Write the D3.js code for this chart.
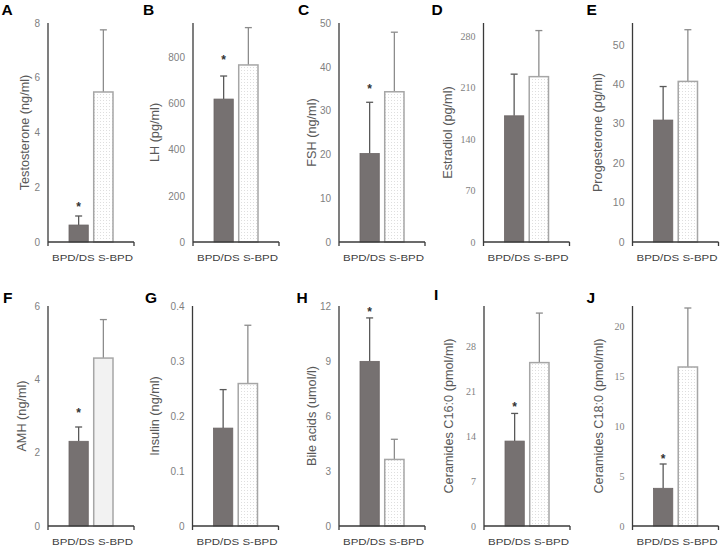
<!DOCTYPE html>
<html>
<head>
<meta charset="utf-8">
<title>Bar panels</title>
<script src="https://cdn.jsdelivr.net/npm/d3@7"></script>
<style>
body { margin: 0; background: #fff; }
svg { font-family: "Liberation Sans", Arial, sans-serif; }
</style>
</head>
<body>
<div id="chart"></div>
<script>

// data
var letters = ["A", "B", "C", "D", "E", "F", "G", "H", "I", "J"];
var yTitles = ["Testosterone (ng/ml)", "LH (pg/ml)", "FSH (ng/ml)", "Estradiol (pg/ml)", "Progesterone (pg/ml)",
               "AMH (ng/ml)", "Insulin (ng/ml)", "Bile acids (umol/l)", "Ceramides C16:0 (pmol/ml)", "Ceramides C18:0 (pmol/ml)"];
var groups = ["BPD/DS", "S-BPD"];
var meanBPDDS = [0.62, 620, 20.2, 171.7, 30.9, 2.31, 0.178, 8.98, 13.2, 3.77];
var sdBPDDS   = [0.33, 100, 11.7, 56.7, 8.5, 0.39, 0.07, 2.37, 4.3, 2.43];
var meanSBPD  = [5.48, 768, 34.3, 225, 40.7, 4.58, 0.259, 3.63, 25.4, 15.9];
var sdSBPD    = [2.27, 162, 13.6, 62.7, 13.1, 1.05, 0.106, 1.1, 7.7, 5.9];
var signif    = [true, true, true, false, false, true, false, true, true, true];
var yMax      = [8, 950, 50, 298, 55.5, 6, 0.4, 12, 34.2, 22];
var yTicks = [
  [0, 2, 4, 6, 8],
  [0, 200, 400, 600, 800],
  [0, 10, 20, 30, 40, 50],
  [0, 70, 140, 210, 280],
  [0, 10, 20, 30, 40, 50],
  [0, 2, 4, 6],
  [0, 0.1, 0.2, 0.3, 0.4],
  [0, 3, 6, 9, 12],
  [0, 7, 14, 21, 28],
  [0, 5, 10, 15, 20]
];

// layout
var width = 721, height = 546;
var axisX = [48, 193, 339, 483.5, 632.5, 48, 192.5, 339, 484, 632.5];
var plotW = 86;
var rowTop = [23, 306], rowBottom = [242, 526];
var titleX = [25, 155, 311.7, 448, 598, 22, 155, 311.7, 448.3, 598.3];
var letterX = [1.5, 143, 298, 431.5, 586.5, 3, 145, 296.5, 434, 586.5];
var letterY = [15, 15, 15, 15, 15, 303, 303, 303, 300, 303];
var starGap = [13, 20, 17, 0, 0, 18, 0, 10, 10, 9];
var solidSBPD = [false, false, false, false, false, true, false, false, false, false];
var serifTicks = [false, false, false, true, false, false, false, false, true, true];

var svg = d3.select("#chart")
  .append("svg")
  .attr("width", width)
  .attr("height", height);

var pat = svg.append("defs").append("pattern")
  .attr("id", "dots")
  .attr("width", 3)
  .attr("height", 3)
  .attr("patternUnits", "userSpaceOnUse");
pat.append("rect").attr("width", 3).attr("height", 3).attr("fill", "#fff");
pat.append("rect").attr("x", 1).attr("y", 1).attr("width", 1).attr("height", 1).attr("fill", "#dedede");

letters.forEach(function(letter, i) {
  var row = i < 5 ? 0 : 1;
  var x0 = axisX[i];
  var top = rowTop[row], bottom = rowBottom[row];

  var y = d3.scaleLinear()
    .domain([0, yMax[i]])
    .range([bottom, top]);

  var x = d3.scaleBand()
    .domain(groups)
    .range([x0 + 21, x0 + 65])
    .paddingInner(0.22);

  var g = svg.append("g");

  // tick labels
  var yAxis = d3.axisLeft(y)
    .tickValues(yTicks[i])
    .tickSize(0)
    .tickPadding(8)
    .tickFormat(function(d) { return d3.format("")(d); });
  var ya = g.append("g")
    .attr("transform", "translate(" + x0 + ",0)")
    .call(yAxis);
  ya.select(".domain").remove();
  ya.selectAll("text")
    .attr("fill", "#7f7f7f")
    .style("font-size", i == 4 ? "10.5px" : "10px")
    .style("font-family", serifTicks[i] ? "'Liberation Serif', serif" : null);

  var rows = [
    {grp: groups[0], mean: meanBPDDS[i], sd: sdBPDDS[i]},
    {grp: groups[1], mean: meanSBPD[i], sd: sdSBPD[i]}
  ];

  // error bars (upper only)
  rows.forEach(function(d, k) {
    var cx = x(d.grp) + x.bandwidth() / 2;
    var col = k == 0 ? "#595959" : "#8c8c8c";
    g.append("line")
      .attr("x1", cx).attr("x2", cx)
      .attr("y1", y(d.mean)).attr("y2", y(d.mean + d.sd))
      .attr("stroke", col).attr("stroke-width", 1.3);
    g.append("line")
      .attr("x1", cx - 3.5).attr("x2", cx + 3.5)
      .attr("y1", y(d.mean + d.sd)).attr("y2", y(d.mean + d.sd))
      .attr("stroke", col).attr("stroke-width", 1.3);
  });

  // bars
  g.selectAll("rect.bar")
    .data(rows)
    .enter().append("rect")
    .attr("class", "bar")
    .attr("x", function(d) { return x(d.grp); })
    .attr("y", function(d) { return y(d.mean); })
    .attr("width", x.bandwidth())
    .attr("height", function(d) { return y(0) - y(d.mean); })
    .attr("fill", function(d, k) {
      if (k == 0) return "#767171";
      return solidSBPD[i] ? "#f2f2f2" : "url(#dots)";
    })
    .attr("stroke", function(d, k) { return k == 0 ? "#6b6565" : "#a6a6a6"; })
    .attr("stroke-width", function(d, k) { return k == 0 ? 0.8 : 1.5; });

  // axis lines
  g.append("line")
    .attr("x1", x0).attr("x2", x0)
    .attr("y1", top).attr("y2", bottom + 4)
    .attr("stroke", "#3a3a3a").attr("stroke-width", 1.3);
  g.append("line")
    .attr("x1", x0).attr("x2", x0 + plotW)
    .attr("y1", bottom).attr("y2", bottom)
    .attr("stroke", "#3a3a3a").attr("stroke-width", 1.3);
  g.append("line")
    .attr("x1", x0 + plotW).attr("x2", x0 + plotW)
    .attr("y1", bottom).attr("y2", bottom + 4)
    .attr("stroke", "#3a3a3a").attr("stroke-width", 1.3);

  // category label
  g.append("text")
    .attr("x", x0 + 4)
    .attr("y", bottom + 19)
    .attr("textLength", 81)
    .attr("lengthAdjust", "spacingAndGlyphs")
    .attr("fill", "#404040")
    .style("font-size", "9.5px")
    .text(groups.join(" "));

  // y title
  g.append("text")
    .attr("transform", "translate(" + titleX[i] + "," + ((top + bottom) / 2) + ") rotate(-90)")
    .attr("text-anchor", "middle")
    .attr("dy", "0.35em")
    .attr("fill", "#595959")
    .style("font-size", "12.7px")
    .text(yTitles[i]);

  // significance mark
  if (signif[i]) {
    var sx = x(groups[0]) + x.bandwidth() / 2;
    g.append("text")
      .attr("x", sx)
      .attr("y", y(meanBPDDS[i] + sdBPDDS[i]) - starGap[i] + 8)
      .attr("text-anchor", "middle")
      .attr("fill", "#333")
      .style("font-size", "12px")
      .style("font-weight", "bold")
      .text("*");
  }

  // panel letter
  svg.append("text")
    .attr("x", letterX[i])
    .attr("y", letterY[i])
    .attr("fill", "#000")
    .style("font-size", "15.5px")
    .style("font-weight", "bold")
    .text(letter);
});

</script>
</body>
</html>
